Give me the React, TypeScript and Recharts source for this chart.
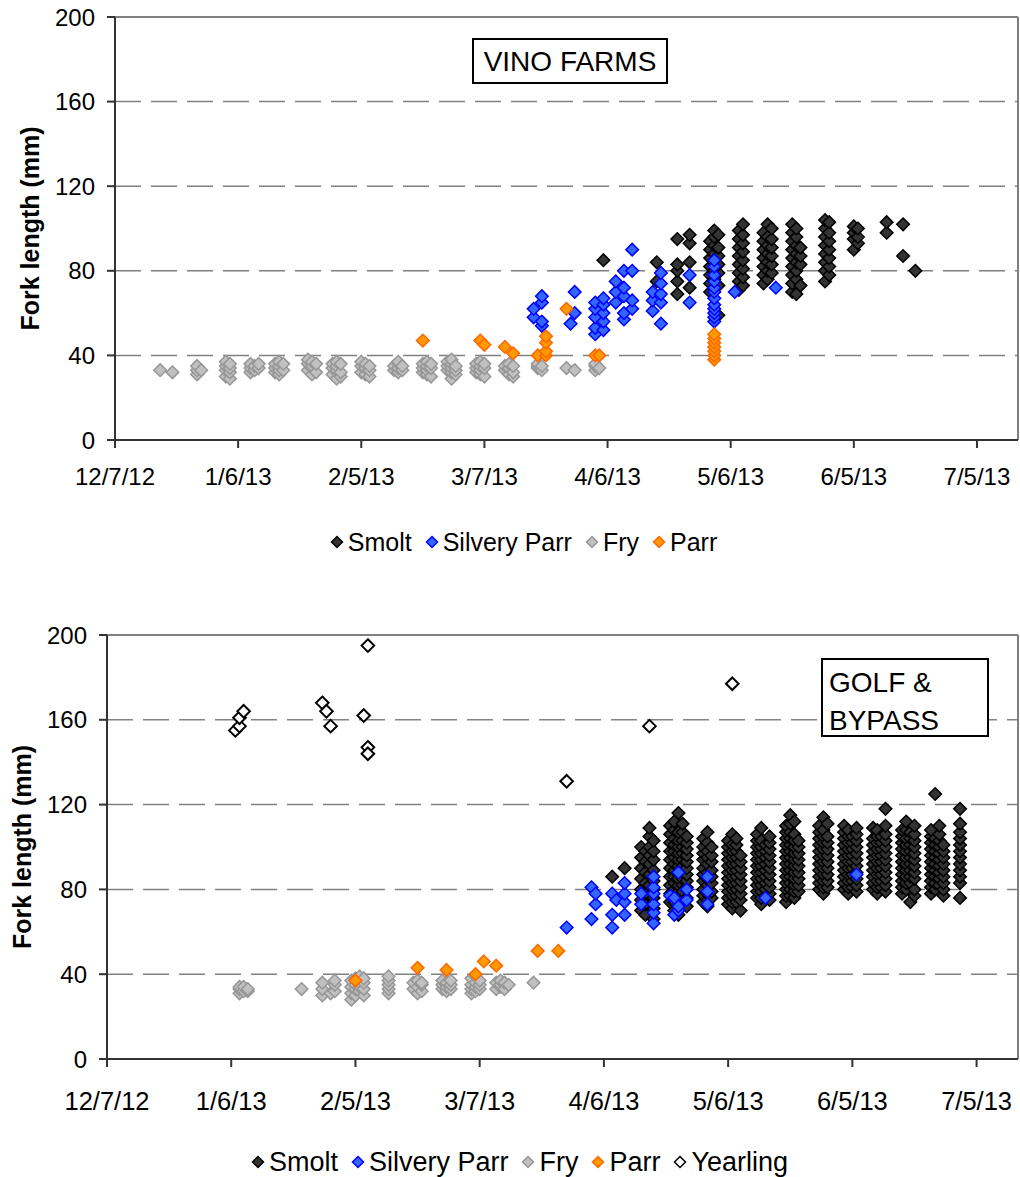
import React from 'react';
import { ScatterChart, Scatter, XAxis, YAxis, CartesianGrid, ReferenceLine } from 'recharts';

// dates are capture days, values are fork lengths (mm)
type Catch = [string, number[]];

const axisStart = '12/7/12';
const axisEnd = '7/15/13';
const dateTicks = ['12/7/12', '1/6/13', '2/5/13', '3/7/13', '4/6/13', '5/6/13', '6/5/13', '7/5/13'];
const lengthTicks = [0, 40, 80, 120, 160, 200];
const gridLengths = [40, 80, 120, 160];

// ---- VINO FARMS ----
const vinoSmolt: Catch[] = [
  ['4/5/13', [85]],
  ['4/18/13', [75, 84]],
  ['4/23/13', [69, 75, 80, 83, 95]],
  ['4/26/13', [72, 84, 93, 97]],
  ['5/1/13', [70, 74, 78, 82, 86, 90, 94]],
  ['5/2/13', [72, 76, 80, 84, 88, 92, 96, 99]],
  ['5/3/13', [59, 73, 79, 83, 87, 91, 97]],
  ['5/8/13', [71, 75, 79, 83, 87, 91, 95, 99]],
  ['5/9/13', [73, 77, 81, 85, 89, 93, 97, 102]],
  ['5/14/13', [74, 78, 82, 86, 90, 94, 98]],
  ['5/15/13', [76, 80, 84, 88, 92, 96, 102]],
  ['5/16/13', [79, 83, 87, 91, 95, 100]],
  ['5/21/13', [70, 74, 78, 82, 86, 90, 94, 98, 102]],
  ['5/22/13', [69, 76, 80, 84, 88, 92, 96, 100]],
  ['5/23/13', [73, 83, 87, 91]],
  ['5/29/13', [75, 80, 84, 88, 92, 96, 100, 104]],
  ['5/30/13', [78, 82, 86, 90, 94, 98, 103]],
  ['6/5/13', [90, 95, 98, 101]],
  ['6/6/13', [93, 96, 100]],
  ['6/13/13', [98, 103]],
  ['6/17/13', [87, 102]],
  ['6/20/13', [80]],
];

const vinoSilvery: Catch[] = [
  ['3/19/13', [58, 62]],
  ['3/21/13', [54, 56, 65, 68]],
  ['3/28/13', [55]],
  ['3/29/13', [60, 70]],
  ['4/3/13', [50, 53, 58, 62, 65]],
  ['4/5/13', [52, 56, 60, 64, 67]],
  ['4/8/13', [65, 70, 75]],
  ['4/10/13', [57, 60, 68, 72, 80]],
  ['4/12/13', [62, 66, 80, 90]],
  ['4/17/13', [61, 66, 70]],
  ['4/19/13', [55, 65, 69, 74, 79]],
  ['4/26/13', [65, 78]],
  ['5/2/13', [56, 58, 60, 62, 64, 67, 70, 72, 75, 78, 82, 85]],
  ['5/7/13', [70]],
  ['5/17/13', [72]],
];

const vinoFry: Catch[] = [
  ['12/18/12', [33]],
  ['12/21/12', [32]],
  ['12/27/12', [31, 33, 35]],
  ['12/28/12', [33]],
  ['1/3/13', [30, 33, 35, 37]],
  ['1/4/13', [29, 32, 34, 36]],
  ['1/9/13', [32, 34, 36]],
  ['1/10/13', [33, 35]],
  ['1/11/13', [34, 36]],
  ['1/15/13', [32, 34, 36]],
  ['1/16/13', [31, 33, 35, 37]],
  ['1/17/13', [33, 36]],
  ['1/23/13', [33, 36, 38]],
  ['1/24/13', [31, 34, 35, 37]],
  ['1/25/13', [32, 36]],
  ['1/29/13', [31, 34, 36]],
  ['1/30/13', [29, 33, 35, 37]],
  ['1/31/13', [30, 32, 36]],
  ['2/5/13', [32, 35, 37]],
  ['2/6/13', [31, 34, 36]],
  ['2/7/13', [30, 33, 35]],
  ['2/13/13', [33, 35]],
  ['2/14/13', [32, 34, 36, 37]],
  ['2/15/13', [33, 35]],
  ['2/20/13', [32, 34, 36]],
  ['2/21/13', [31, 33, 35, 37]],
  ['2/22/13', [30, 34, 36]],
  ['2/26/13', [33, 35, 37]],
  ['2/27/13', [29, 32, 34, 36, 38]],
  ['2/28/13', [31, 33, 35]],
  ['3/5/13', [32, 34, 36]],
  ['3/6/13', [31, 33, 35, 37]],
  ['3/7/13', [30, 34, 36]],
  ['3/12/13', [33, 35]],
  ['3/13/13', [31, 34, 36]],
  ['3/14/13', [30, 32, 35]],
  ['3/20/13', [34, 35, 36]],
  ['3/21/13', [33, 35]],
  ['3/27/13', [34]],
  ['3/29/13', [33]],
  ['4/3/13', [33, 35, 36]],
  ['4/4/13', [34]],
];

const vinoParr: Catch[] = [
  ['2/20/13', [47]],
  ['3/6/13', [47]],
  ['3/7/13', [45]],
  ['3/12/13', [44]],
  ['3/14/13', [41]],
  ['3/20/13', [40]],
  ['3/22/13', [40, 42, 46, 49]],
  ['3/27/13', [62]],
  ['4/3/13', [40]],
  ['4/4/13', [40]],
  ['5/2/13', [38, 40, 42, 44, 46, 48, 50]],
];

// ---- GOLF & BYPASS ----
const golfSmolt: Catch[] = [
  ['4/8/13', [86]],
  ['4/11/13', [90]],
  ['4/15/13', [70, 75, 80, 85, 90, 95, 100]],
  ['4/16/13', [68, 73, 78, 83, 88, 93, 98]],
  ['4/17/13', [72, 77, 82, 87, 92, 96, 100, 105, 109]],
  ['4/18/13', [66, 71, 76, 80, 84, 89, 94, 98, 103]],
  ['4/22/13', [74, 78, 82, 86, 90, 94, 98, 102, 106, 110]],
  ['4/23/13', [70, 74, 77, 80, 83, 86, 89, 92, 95, 98, 101, 104, 108, 112]],
  ['4/24/13', [68, 72, 76, 79, 82, 85, 88, 91, 94, 97, 100, 103, 107, 116]],
  ['4/25/13', [79, 82, 85, 88, 91, 94, 97, 100, 103, 107, 111]],
  ['4/26/13', [72, 76, 81, 84, 87, 90, 93, 96, 99, 102, 105]],
  ['4/30/13', [74, 77, 80, 84, 87, 90, 94, 97, 100, 104]],
  ['5/1/13', [72, 75, 78, 82, 85, 88, 92, 95, 98, 102, 107]],
  ['5/2/13', [76, 79, 83, 86, 89, 93, 96, 100]],
  ['5/6/13', [73, 76, 79, 82, 85, 88, 91, 94, 97, 100, 103]],
  ['5/7/13', [71, 74, 77, 80, 83, 86, 89, 92, 95, 98, 101, 106]],
  ['5/8/13', [74, 77, 80, 83, 86, 89, 92, 95, 98, 101, 104]],
  ['5/9/13', [70, 75, 78, 81, 84, 87, 90, 93, 96]],
  ['5/13/13', [76, 79, 82, 85, 88, 91, 94, 97, 100, 103, 106]],
  ['5/14/13', [73, 76, 79, 82, 85, 88, 91, 94, 97, 100, 103, 109]],
  ['5/15/13', [77, 80, 83, 86, 89, 92, 95, 98, 101]],
  ['5/16/13', [75, 78, 81, 84, 87, 90, 93, 96, 99, 102, 105]],
  ['5/20/13', [74, 77, 80, 83, 86, 89, 92, 95, 98, 101, 104, 107, 110]],
  ['5/21/13', [77, 80, 83, 86, 89, 92, 95, 98, 101, 104, 107, 111, 115]],
  ['5/22/13', [76, 79, 82, 85, 88, 91, 94, 97, 100, 103, 106, 112]],
  ['5/23/13', [79, 82, 85, 88, 91, 94, 97, 100, 103]],
  ['5/28/13', [80, 83, 86, 89, 92, 95, 98, 101, 104, 107, 110]],
  ['5/29/13', [78, 81, 84, 87, 90, 93, 96, 99, 102, 105, 108, 114]],
  ['5/30/13', [81, 84, 87, 90, 93, 96, 99, 102, 105, 111]],
  ['6/3/13', [80, 83, 86, 89, 92, 95, 98, 101, 104, 107, 110]],
  ['6/4/13', [78, 81, 84, 87, 90, 93, 96, 99, 102, 105, 108]],
  ['6/5/13', [81, 84, 87, 90, 93, 96, 99, 102, 105]],
  ['6/6/13', [79, 82, 85, 88, 91, 94, 97, 100, 103, 106, 109]],
  ['6/10/13', [80, 83, 86, 89, 92, 95, 98, 101, 104, 109]],
  ['6/11/13', [78, 81, 84, 87, 90, 93, 96, 99, 102, 105, 108]],
  ['6/12/13', [81, 84, 87, 90, 93, 96, 99, 102, 105]],
  ['6/13/13', [79, 82, 85, 88, 91, 94, 97, 100, 103, 106, 110, 118]],
  ['6/17/13', [78, 81, 84, 87, 90, 93, 96, 99, 102, 105, 108]],
  ['6/18/13', [80, 83, 86, 89, 92, 95, 98, 101, 104, 108, 112]],
  ['6/19/13', [74, 83, 86, 89, 92, 95, 98, 101, 104, 107]],
  ['6/20/13', [77, 80, 85, 88, 91, 94, 97, 100, 103, 106, 110]],
  ['6/24/13', [78, 81, 84, 87, 90, 93, 96, 99, 102, 105, 108]],
  ['6/25/13', [80, 83, 86, 89, 92, 95, 98, 101, 104, 125]],
  ['6/26/13', [82, 85, 88, 91, 94, 97, 100, 103, 106, 110]],
  ['6/27/13', [77, 80, 83, 86, 89, 92, 95, 98, 101]],
  ['7/1/13', [76, 83, 86, 89, 92, 95, 98, 101, 104, 107, 111, 118]],
];

const golfSilvery: Catch[] = [
  ['3/28/13', [62]],
  ['4/3/13', [66, 81]],
  ['4/4/13', [73, 78]],
  ['4/8/13', [62, 68, 78]],
  ['4/9/13', [75]],
  ['4/11/13', [68, 74, 78, 83]],
  ['4/15/13', [73, 78]],
  ['4/18/13', [64, 69, 73, 78, 81, 86]],
  ['4/22/13', [77]],
  ['4/23/13', [68, 76]],
  ['4/24/13', [70, 72, 88]],
  ['4/26/13', [75, 80]],
  ['5/1/13', [73, 79, 86]],
  ['5/15/13', [76]],
  ['6/6/13', [87]],
];

const golfFry: Catch[] = [
  ['1/8/13', [31, 33, 34]],
  ['1/9/13', [32, 34]],
  ['1/10/13', [32, 33]],
  ['1/23/13', [33]],
  ['1/28/13', [30, 33, 36]],
  ['1/30/13', [31]],
  ['1/31/13', [32, 35, 37]],
  ['2/4/13', [28, 31, 34, 37]],
  ['2/5/13', [30, 33, 35, 38]],
  ['2/6/13', [32, 34, 36, 39]],
  ['2/7/13', [30, 33, 36, 38]],
  ['2/13/13', [31, 33, 35, 37, 39]],
  ['2/19/13', [33, 36]],
  ['2/20/13', [31, 34, 37]],
  ['2/21/13', [32, 35, 36]],
  ['2/26/13', [33, 35, 37]],
  ['2/27/13', [32, 34, 36]],
  ['2/28/13', [33, 35, 37]],
  ['3/5/13', [31, 33, 35, 38]],
  ['3/6/13', [32, 34, 36, 39]],
  ['3/7/13', [33, 35, 37]],
  ['3/11/13', [33, 36]],
  ['3/12/13', [34, 35, 37]],
  ['3/13/13', [33, 36]],
  ['3/14/13', [35]],
  ['3/20/13', [36]],
];

const golfParr: Catch[] = [
  ['2/5/13', [37]],
  ['2/20/13', [43]],
  ['2/27/13', [42]],
  ['3/6/13', [40]],
  ['3/8/13', [46]],
  ['3/11/13', [44]],
  ['3/21/13', [51]],
  ['3/26/13', [51]],
];

const golfYearling: Catch[] = [
  ['1/7/13', [155]],
  ['1/8/13', [157, 161]],
  ['1/9/13', [164]],
  ['1/28/13', [168]],
  ['1/29/13', [164]],
  ['1/30/13', [157]],
  ['2/7/13', [162]],
  ['2/8/13', [195, 147, 144]],
  ['3/28/13', [131]],
  ['4/17/13', [157]],
  ['5/7/13', [177]],
];

const toDay = (s: string) => {
  const [m, d, y] = s.split('/').map(Number);
  const [m0, d0, y0] = axisStart.split('/').map(Number);
  return Math.round((Date.UTC(2000 + y, m - 1, d) - Date.UTC(2000 + y0, m0 - 1, d0)) / 86400000);
};

const toPoints = (rows: Catch[]) =>
  rows.flatMap(([date, lens]) => lens.map((len) => ({ x: toDay(date), y: len })));

const seriesStyle: Record<string, { fill: string; stroke: string }> = {
  Smolt: { fill: '#333333', stroke: '#000000' },
  'Silvery Parr': { fill: '#3366FF', stroke: '#0000FF' },
  Fry: { fill: '#C0C0C0', stroke: '#969696' },
  Parr: { fill: '#FF9900', stroke: '#FF6600' },
  Yearling: { fill: '#FFFFFF', stroke: '#000000' },
};

const FONT = '"Liberation Sans", Arial, sans-serif';

const diamond = (name: string) => (props: any) => {
  const { cx, cy } = props;
  const r = 6.3;
  const st = seriesStyle[name];
  return (
    <polygon
      points={`${cx},${cy - r} ${cx + r},${cy} ${cx},${cy + r} ${cx - r},${cy}`}
      fill={st.fill}
      stroke={st.stroke}
      strokeWidth={name === 'Yearling' ? 2 : 1.5}
    />
  );
};

const LegendRow = ({ names, top, center, fontSize }: { names: string[]; top: number; center: number; fontSize: number }) => (
  <div
    style={{
      position: 'absolute',
      top,
      left: center - 400,
      width: 800,
      display: 'flex',
      justifyContent: 'center',
      fontFamily: FONT,
      fontSize,
      color: '#000',
      lineHeight: '30px',
    }}
  >
    {names.map((n) => (
      <span key={n} style={{ display: 'flex', alignItems: 'center', marginRight: 13 }}>
        <svg width={14} height={14} style={{ marginRight: 4 }}>
          <polygon
            points="7,1.5 12.5,7 7,12.5 1.5,7"
            fill={seriesStyle[n].fill}
            stroke={seriesStyle[n].stroke}
            strokeWidth={1.5}
          />
        </svg>
        {n}
      </span>
    ))}
  </div>
);

type PanelProps = {
  top: number;
  plotLeft: number;
  plotTop: number;
  plotBottom: number;
  height: number;
  titleX: number;
  xTickMargin: number;
  yTickMargin: number;
  xTickFont: number;
  series: { name: string; rows: Catch[] }[];
};

const Panel = ({ top, plotLeft, plotTop, plotBottom, height, titleX, xTickMargin, yTickMargin, xTickFont, series }: PanelProps) => {
  const yAxisWidth = 60;
  const xAxisHeight = 45;
  const renderTitle = (p: any) => {
    const vb = p.viewBox || {};
    const cy = vb.y + vb.height / 2;
    const x = titleX;
    return (
      <text
        x={x}
        y={cy}
        transform={`rotate(-90 ${x} ${cy})`}
        textAnchor="middle"
        dominantBaseline="central"
        fontWeight="bold"
        fontSize={25}
        fill="#000"
        fontFamily={FONT}
      >
        Fork length (mm)
      </text>
    );
  };
  return (
    <div style={{ position: 'absolute', left: 0, top }}>
      <ScatterChart
        width={1020}
        height={height}
        margin={{
          top: plotTop,
          right: 2,
          left: plotLeft - yAxisWidth,
          bottom: height - plotBottom - xAxisHeight,
        }}
        style={{ fontFamily: FONT }}
      >
        <CartesianGrid
          vertical={false}
          horizontalValues={gridLengths}
          stroke="#808080"
          strokeWidth={1.5}
          strokeDasharray="26 10"
        />
        <XAxis
          type="number"
          dataKey="x"
          domain={[0, toDay(axisEnd)]}
          ticks={dateTicks.map(toDay)}
          tickFormatter={(v: number) => dateTicks[dateTicks.map(toDay).indexOf(v)] ?? ''}
          height={xAxisHeight}
          tickSize={8}
          tickMargin={xTickMargin}
          stroke="#333333"
          strokeWidth={2}
          tick={{ fill: '#000', fontSize: xTickFont, fontFamily: FONT }}
          allowDataOverflow
        />
        <YAxis
          type="number"
          dataKey="y"
          domain={[0, 200]}
          ticks={lengthTicks}
          width={yAxisWidth}
          tickSize={8}
          tickMargin={yTickMargin}
          stroke="#333333"
          strokeWidth={2}
          tick={{ fill: '#000', fontSize: 24, fontFamily: FONT }}
          label={renderTitle}
          allowDataOverflow
        />
        <ReferenceLine y={200} stroke="#808080" strokeWidth={2} />
        <ReferenceLine x={toDay(axisEnd)} stroke="#808080" strokeWidth={2} />
        {series.map((s) => (
          <Scatter
            key={s.name}
            name={s.name}
            data={toPoints(s.rows)}
            shape={diamond(s.name)}
            isAnimationActive={false}
          />
        ))}
      </ScatterChart>
    </div>
  );
};

const SiteBox = ({ left, top, width, height, lines }: { left: number; top: number; width: number; height: number; lines: string[] }) => (
  <div
    style={{
      position: 'absolute',
      left,
      top,
      width,
      height,
      boxSizing: 'border-box',
      border: '2px solid #000',
      background: '#fff',
      fontFamily: FONT,
      fontSize: 28,
      lineHeight: '38px',
      padding: lines.length > 1 ? '4px 0 0 6px' : '3px 0 0 0',
      textAlign: lines.length > 1 ? 'left' : 'center',
      color: '#000',
    }}
  >
    {lines.map((l) => (
      <div key={l}>{l}</div>
    ))}
  </div>
);

export default function App() {
  return (
    <div style={{ position: 'absolute', left: 0, top: 0, width: 1020, height: 1177, background: '#fff' }}>
      <Panel
        top={0}
        plotLeft={115}
        plotTop={17}
        plotBottom={440}
        height={510}
        titleX={30}
        xTickMargin={20}
        yTickMargin={12}
        xTickFont={24}
        series={[
          { name: 'Smolt', rows: vinoSmolt },
          { name: 'Silvery Parr', rows: vinoSilvery },
          { name: 'Fry', rows: vinoFry },
          { name: 'Parr', rows: vinoParr },
        ]}
      />
      <SiteBox left={472} top={38} width={196} height={46} lines={['VINO FARMS']} />
      <LegendRow names={['Smolt', 'Silvery Parr', 'Fry', 'Parr']} top={527} center={530} fontSize={25} />

      <Panel
        top={600}
        plotLeft={107}
        plotTop={35}
        plotBottom={459}
        height={530}
        titleX={22}
        xTickMargin={25}
        yTickMargin={12}
        xTickFont={25.5}
        series={[
          { name: 'Smolt', rows: golfSmolt },
          { name: 'Silvery Parr', rows: golfSilvery },
          { name: 'Fry', rows: golfFry },
          { name: 'Parr', rows: golfParr },
          { name: 'Yearling', rows: golfYearling },
        ]}
      />
      <SiteBox left={821} top={658} width={168} height={79} lines={['GOLF &', 'BYPASS']} />
      <LegendRow names={['Smolt', 'Silvery Parr', 'Fry', 'Parr', 'Yearling']} top={1147} center={526} fontSize={27} />
    </div>
  );
}
